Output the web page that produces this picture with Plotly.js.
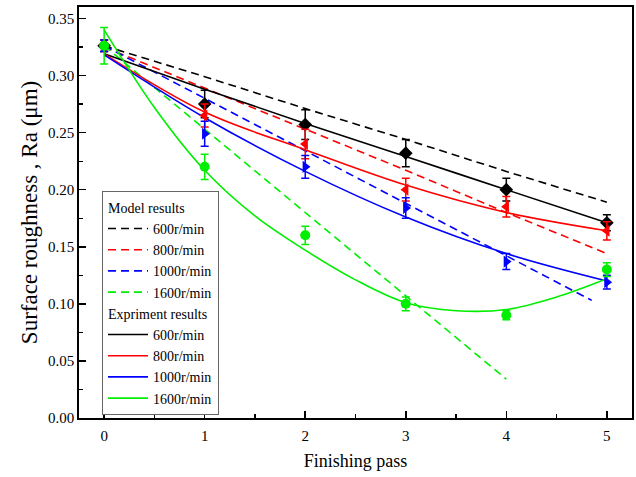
<!DOCTYPE html>
<html>
<head>
<meta charset="utf-8">
<script src="https://cdn.plot.ly/plotly-3.0.1.min.js"></script>
<style>html,body{margin:0;padding:0;background:#fff;}#chart{width:636px;height:477px;}</style>
</head>
<body>
<div id="chart"></div>
<script>
// ---- data ----
const speeds = ['600r/min', '800r/min', '1000r/min', '1600r/min'];
const passes = [0, 1, 2, 3, 4, 5];

// experiment measurements (markers with error bars)
const exp600 = [0.326, 0.275, 0.257, 0.232, 0.200, 0.171];
const exp800 = [0.326, 0.265, 0.240, 0.200, 0.185, 0.164];
const exp1000 = [0.326, 0.249, 0.220, 0.184, 0.137, 0.119];
const exp1600 = [0.326, 0.220, 0.160, 0.100, 0.090, 0.130];
const err600 = [0.005, 0.012, 0.013, 0.012, 0.010, 0.007];
const err800 = [0.005, 0.010, 0.013, 0.010, 0.009, 0.008];
const err1000 = [0.005, 0.011, 0.010, 0.009, 0.007, 0.006];
const err1600 = [0.016, 0.011, 0.008, 0.006, 0.004, 0.006];

// experiment fitted curves (solid)
const fitX = [0, 1, 2, 3, 4, 5];
const fit600 = [0.319, 0.288, 0.258, 0.229, 0.200, 0.171];
const fit800 = [0.319, 0.268, 0.235, 0.204, 0.180, 0.164];
const fit1000 = [0.318, 0.263, 0.216, 0.176, 0.144, 0.120];
const fit1600X = [0, 0.5, 1, 1.5, 2, 2.5, 3, 3.5, 4, 4.5, 5];
const fit1600 = [0.340, 0.272, 0.217, 0.177, 0.147, 0.121, 0.101, 0.094, 0.095, 0.106, 0.122];

// model results (dashed)
const model600X = [0, 1, 2, 3, 4, 5];
const model600 = [0.326, 0.299, 0.271, 0.244, 0.216, 0.189];
const model800X = [0, 1, 2, 3, 4, 5];
const model800 = [0.325, 0.289, 0.253, 0.217, 0.180, 0.144];
const model1000X = [0, 1, 2, 3, 4, 4.85];
const model1000 = [0.326, 0.280, 0.234, 0.188, 0.142, 0.103];
const model1600X = [0, 1, 2, 3, 4];
const model1600 = [0.326, 0.253, 0.180, 0.107, 0.034];

const colors = ['#000000', '#ff0000', '#0000ff', '#00ee00'];
const symbols = ['diamond', 'triangle-left', 'triangle-right', 'circle'];
const FONT = 'Liberation Serif, Times New Roman, serif';
const LEGEND_SIZE = 14;

const modelX = [model600X, model800X, model1000X, model1600X];
const modelY = [model600, model800, model1000, model1600];
const fitXs = [fitX, fitX, fitX, fit1600X];
const fitYs = [fit600, fit800, fit1000, fit1600];
const expY = [exp600, exp800, exp1000, exp1600];
const errY = [err600, err800, err1000, err1600];

const traces = [];
for (let i = 0; i < 4; i++) {
  traces.push({
    x: modelX[i], y: modelY[i], mode: 'lines', name: speeds[i],
    line: {color: colors[i], width: 1.6, dash: '8px,5px'},
    legendgroup: 'model',
    legendgrouptitle: i === 0 ? {text: 'Model results', font: {family: FONT, size: LEGEND_SIZE, color: '#000'}} : undefined
  });
}
for (let i = 0; i < 4; i++) {
  traces.push({
    x: fitXs[i], y: fitYs[i], mode: 'lines', name: speeds[i],
    line: {color: colors[i], width: 1.6, shape: 'spline', smoothing: 1},
    legendgroup: 'exp',
    legendgrouptitle: i === 0 ? {text: 'Expriment results', font: {family: FONT, size: LEGEND_SIZE, color: '#000'}} : undefined
  });
}
for (let i = 0; i < 4; i++) {
  traces.push({
    x: passes, y: expY[i], mode: 'markers', showlegend: false,
    marker: {color: colors[i], symbol: symbols[i], size: i === 3 ? 10 : 10.5},
    error_y: {type: 'data', array: errY[i], visible: true, color: colors[i], thickness: 1.5, width: 4}
  });
}

const layout = {
  width: 636, height: 477,
  margin: {l: 79, r: 4, t: 7, b: 59},
  paper_bgcolor: '#fff', plot_bgcolor: '#fff',
  font: {family: FONT, size: 15, color: '#000'},
  showlegend: true,
  legend: {
    x: 0.0416, y: 0.553, xanchor: 'left', yanchor: 'top',
    bgcolor: '#fff', bordercolor: '#666', borderwidth: 1,
    font: {family: FONT, size: LEGEND_SIZE, color: '#000'},
    tracegroupgap: 0, traceorder: 'grouped', itemwidth: 40
  },
  xaxis: {
    range: [-0.25, 5.25], dtick: 1, tick0: 0,
    ticks: 'inside', ticklen: 7, tickwidth: 1.5, tickcolor: '#000',
    minor: {dtick: 0.5, ticks: 'inside', ticklen: 4, tickwidth: 1.2, tickcolor: '#000'},
    showline: true, linecolor: '#000', linewidth: 1.8, mirror: true,
    showgrid: false, zeroline: false,
    tickfont: {family: FONT, size: 15},
    ticklabelstandoff: 3,
    title: {text: 'Finishing pass', font: {family: FONT, size: 18}, standoff: 12}
  },
  yaxis: {
    range: [0, 0.36], dtick: 0.05, tick0: 0, tickformat: '.2f',
    ticks: 'inside', ticklen: 7, tickwidth: 1.5, tickcolor: '#000',
    minor: {dtick: 0.025, ticks: 'inside', ticklen: 4, tickwidth: 1.2, tickcolor: '#000'},
    showline: true, linecolor: '#000', linewidth: 1.8, mirror: true,
    showgrid: false, zeroline: false,
    tickfont: {family: FONT, size: 15},
    title: {text: 'Surface roughness , Ra (μm)', font: {family: FONT, size: 23}, standoff: 4}
  }
};

Plotly.newPlot('chart', traces, layout, {displayModeBar: false, staticPlot: true});
</script>
</body>
</html>
